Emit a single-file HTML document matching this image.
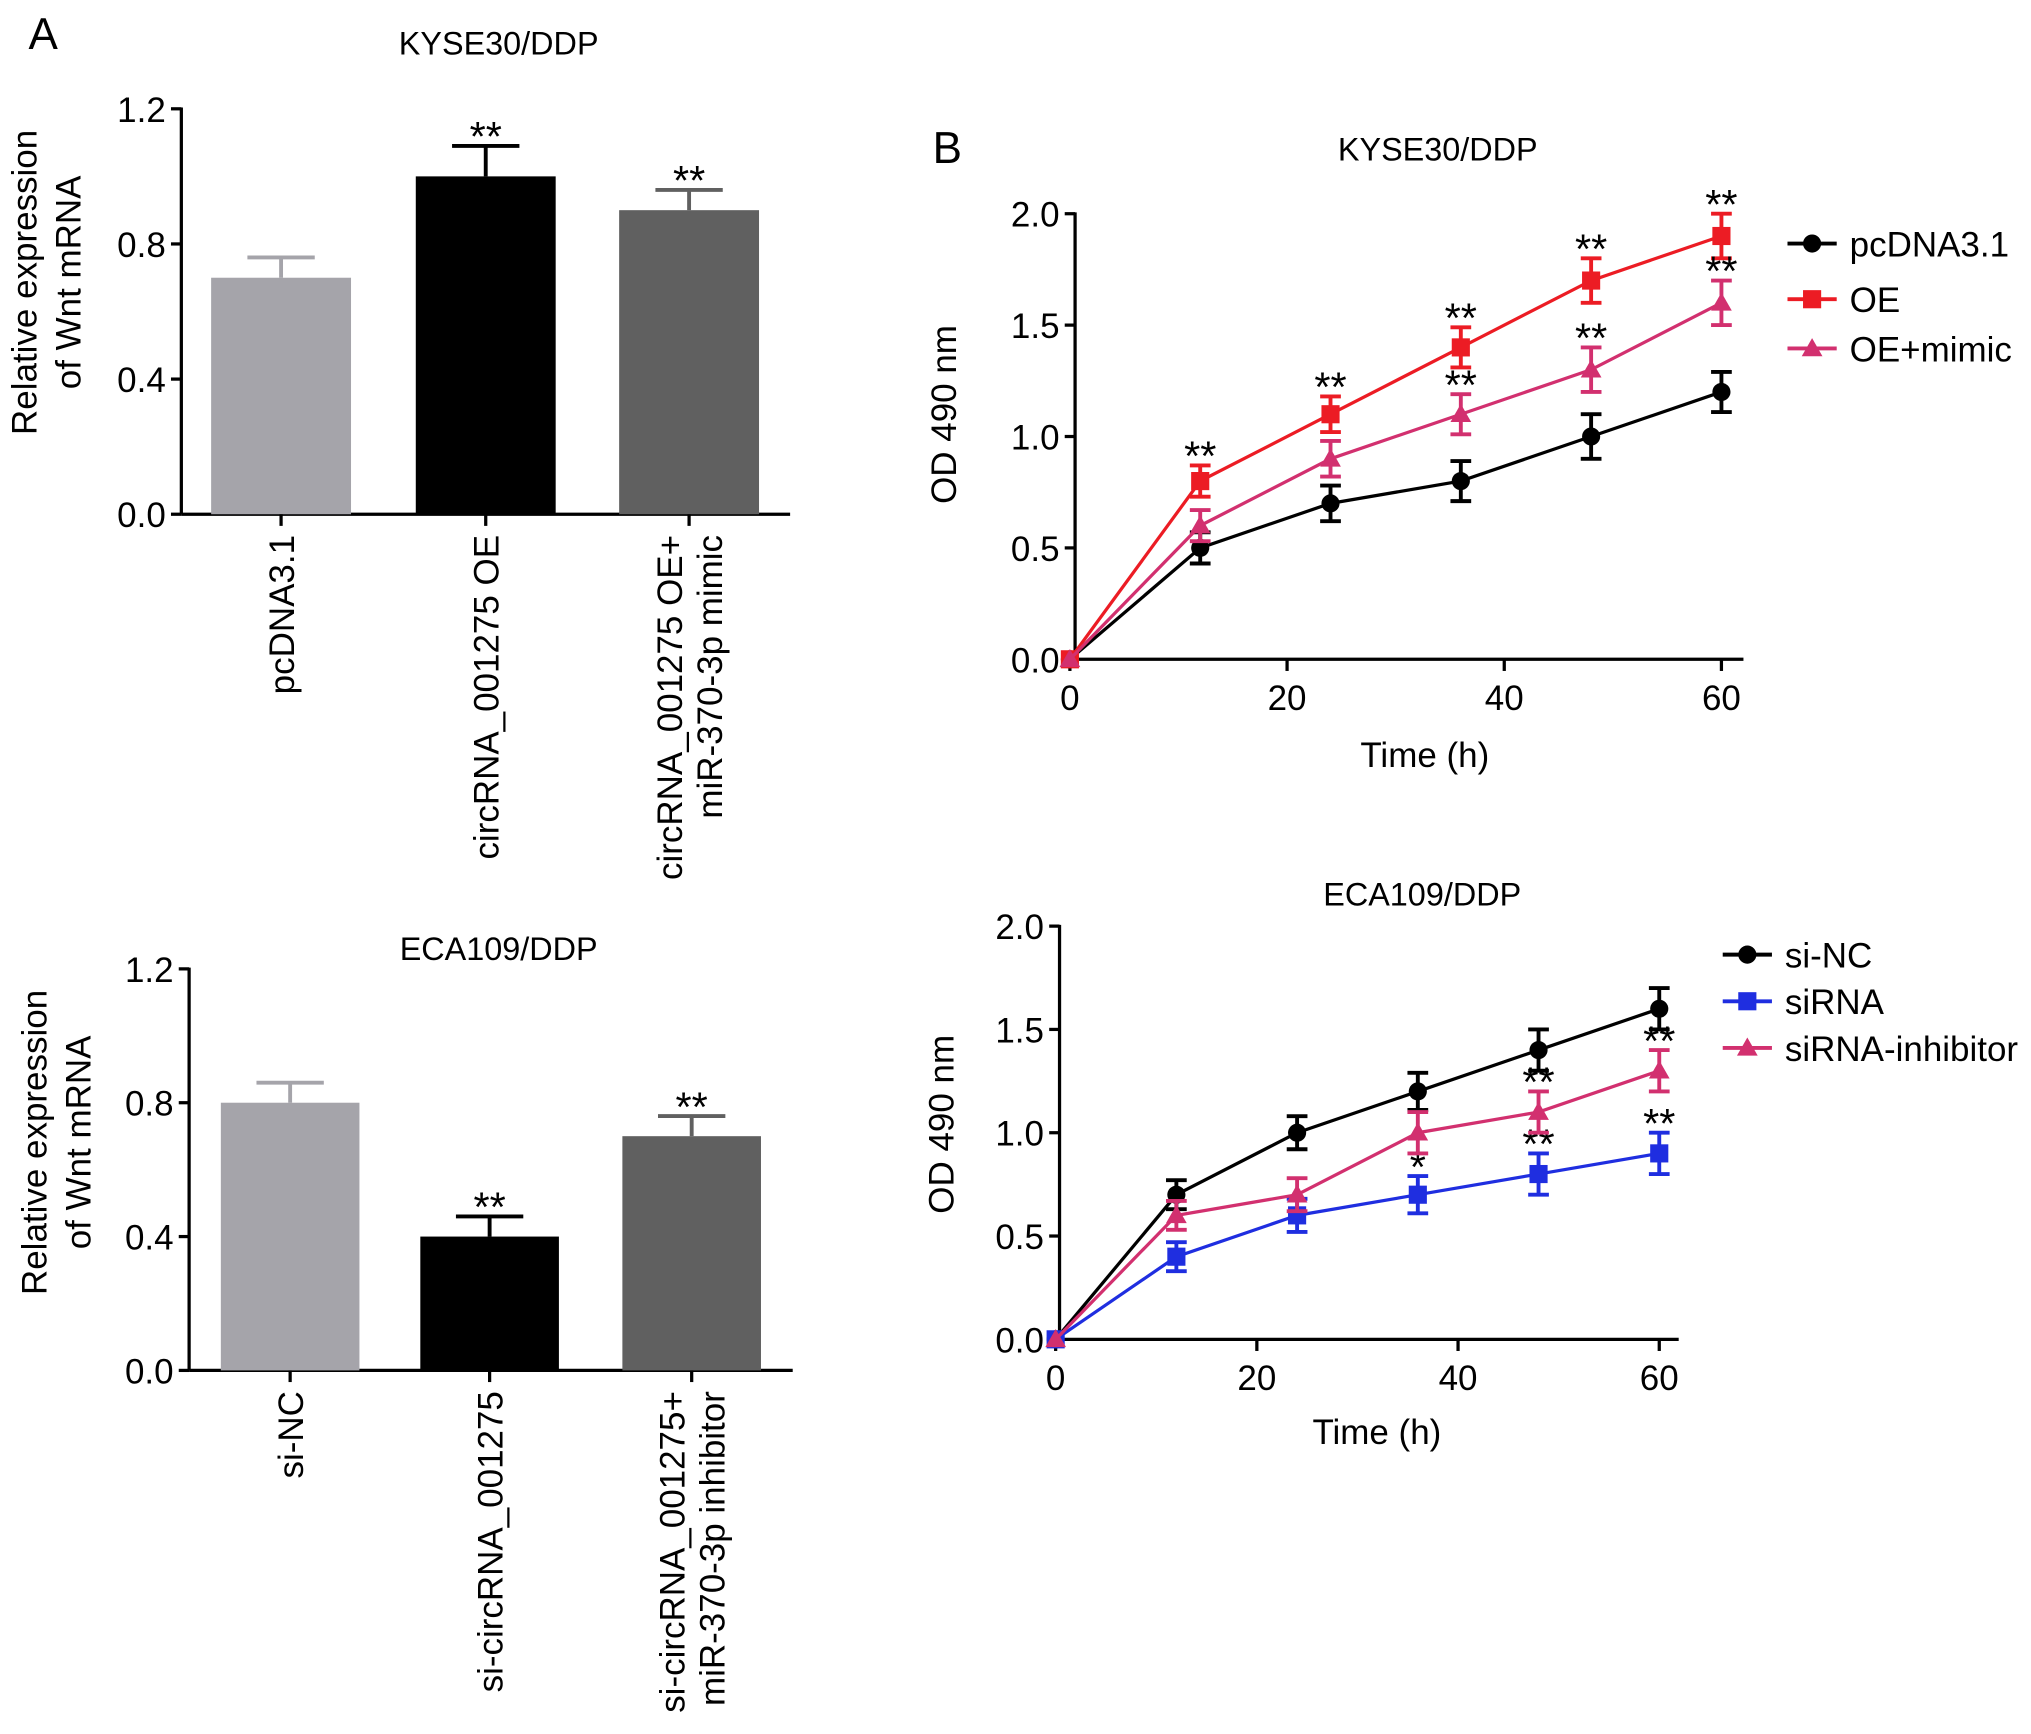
<!DOCTYPE html>
<html><head><meta charset="utf-8"><style>
html,body{margin:0;padding:0;background:#fff;}
svg{display:block;font-family:"Liberation Sans",Arial,sans-serif;}
</style></head><body>
<svg id="fig" width="2031" height="1734" viewBox="0 0 1568 1338.7" xmlns="http://www.w3.org/2000/svg">
<rect width="1568" height="1339" fill="#fff"/>
<text x="22" y="38" font-size="34">A</text>
<text x="720" y="126" font-size="34">B</text>
</svg>
<script>
// Bar chart data
const barTopCats = [["pcDNA3.1"],["circRNA_001275 OE"],["circRNA_001275 OE+","miR-370-3p mimic"]];
const barTopVals = [0.7, 1.0, 0.9];
const barTopErr = [0.06, 0.09, 0.06];
const barTopSig = ["", "**", "**"];
const barBotCats = [["si-NC"],["si-circRNA_001275"],["si-circRNA_001275+","miR-370-3p inhibitor"]];
const barBotVals = [0.8, 0.4, 0.7];
const barBotErr = [0.06, 0.06, 0.06];
const barBotSig = ["", "**", "**"];
const barTicks = [0.0, 0.4, 0.8, 1.2];
const barTickLabels = ["0.0", "0.4", "0.8", "1.2"];
// Line chart data
const timeX = [0, 12, 24, 36, 48, 60];
const xTicks = [0, 20, 40, 60];
const yTicksB = [0.0, 0.5, 1.0, 1.5, 2.0];
const yTickLabelsB = ["0.0", "0.5", "1.0", "1.5", "2.0"];
const topNames = ["pcDNA3.1", "OE", "OE+mimic"];
const topPc = [0, 0.5, 0.7, 0.8, 1.0, 1.2];
const topPcErr = [0, 0.07, 0.08, 0.09, 0.1, 0.09];
const topOE = [0, 0.8, 1.1, 1.4, 1.7, 1.9];
const topOEErr = [0, 0.07, 0.08, 0.09, 0.1, 0.1];
const topMim = [0, 0.6, 0.9, 1.1, 1.3, 1.6];
const topMimErr = [0, 0.07, 0.08, 0.09, 0.1, 0.1];
const topOESig = ["", "**", "**", "**", "**", "**"];
const topMimSig = ["", "", "", "**", "**", "**"];
const botNames = ["si-NC", "siRNA", "siRNA-inhibitor"];
const botNC = [0, 0.7, 1.0, 1.2, 1.4, 1.6];
const botNCErr = [0, 0.07, 0.08, 0.09, 0.1, 0.1];
const botSi = [0, 0.4, 0.6, 0.7, 0.8, 0.9];
const botSiErr = [0, 0.07, 0.08, 0.09, 0.1, 0.1];
const botInh = [0, 0.6, 0.7, 1.0, 1.1, 1.3];
const botInhErr = [0, 0.07, 0.08, 0.1, 0.1, 0.1];
const botSiSig = ["", "", "", "*", "**", "**"];
const botInhSig = ["", "", "", "", "**", "**"];

const svg = document.getElementById('fig');
const NS = "http://www.w3.org/2000/svg";
function mk(tag, attrs, parent) {
  const e = document.createElementNS(NS, tag);
  for (const k in attrs) e.setAttribute(k, attrs[k]);
  (parent || svg).appendChild(e);
  return e;
}
function txt(s, attrs, parent) { const e = mk('text', attrs, parent); e.textContent = s; return e; }

function barChart(o) {
  const g = mk('g', {});
  
  
  const y = v => o.y0 - (v / 1.2) * (o.y0 - o.y1);
  txt(o.title, {x: o.titleX, y: o.titleY, 'font-size': 25, 'text-anchor': 'middle'}, g);
  const ax = mk('line', {x1: o.ax, y1: o.y1 - 1, x2: o.ax, y2: o.y0, stroke: '#000', 'stroke-width': 2.5}, g);
  
  
  const xa = mk('line', {x1: o.ax, y1: o.y0, x2: o.xEnd, y2: o.y0, stroke: '#000', 'stroke-width': 2.5}, g);
  
  
  barTicks.forEach((t, i) => {
    mk('line', {x1: o.ax - 8, y1: y(t), x2: o.ax, y2: y(t), stroke: '#000', 'stroke-width': 2.5}, g);
    const l = txt(barTickLabels[i], {x: o.ax - 12, y: y(t) + 10, 'font-size': 27, 'text-anchor': 'end'}, g);
    
    
  });
  const yt = txt('', {transform: `translate(${o.ytX},${o.ytY}) rotate(-90)`, 'font-size': 27, 'text-anchor': 'middle'}, g);
  
  
  const s1 = mk('tspan', {x: 0, y: 0}, yt); s1.textContent = 'Relative expression';
  const s2 = mk('tspan', {x: 0, y: 34}, yt); s2.textContent = 'of Wnt mRNA';
  o.vals.forEach((v, i) => {
    const cx = o.cx[i];
    const b = mk('rect', {x: cx - o.bw / 2, y: y(v), width: o.bw, height: o.y0 - y(v), fill: o.colors[i]}, g);
    
    
    const top = y(v + o.err[i]);
    mk('line', {x1: cx, y1: y(v), x2: cx, y2: top, stroke: o.colors[i], 'stroke-width': 3}, g);
    mk('line', {x1: cx - 26, y1: top, x2: cx + 26, y2: top, stroke: o.colors[i], 'stroke-width': 3}, g);
    if (o.sig[i]) {
      const st = txt(o.sig[i], {x: cx, y: top + 4, 'font-size': 32, 'text-anchor': 'middle'}, g);
      
      
    }
    mk('line', {x1: cx, y1: o.y0, x2: cx, y2: o.y0 + 9, stroke: '#000', 'stroke-width': 2.5}, g);
    const lines = o.cats[i];
    const n = lines.length;
    const lt = txt('', {transform: `translate(${cx},${o.y0 + 16}) rotate(-90)`, 'font-size': 27, 'text-anchor': 'end'}, g);
    
    
    lines.forEach((ln, k) => {
      const sp = mk('tspan', {x: 0, y: 10 + (k - (n - 1) / 2) * 31}, lt); sp.textContent = ln;
    });
  });
}

barChart({name: 'bar-chart-kyse30', title: 'KYSE30/DDP', titleX: 385, titleY: 42, ax: 140, xEnd: 610, y0: 397, y1: 84,
  cx: [217, 375, 532], bw: 108, vals: barTopVals, err: barTopErr, sig: barTopSig, cats: barTopCats,
  colors: ['#a5a4aa', '#000000', '#606060'], ytX: 28, ytY: 218});
barChart({name: 'bar-chart-eca109', title: 'ECA109/DDP', titleX: 385, titleY: 741, ax: 146, xEnd: 612, y0: 1058, y1: 748,
  cx: [224, 378, 534], bw: 107, vals: barBotVals, err: barBotErr, sig: barBotSig, cats: barBotCats,
  colors: ['#a5a4aa', '#000000', '#606060'], ytX: 36, ytY: 882});

function marker(g, shape, x, y, c) {
  if (shape === 'circle') return mk('circle', {cx: x, cy: y, r: 7, fill: c}, g);
  if (shape === 'square') return mk('rect', {x: x - 7, y: y - 7, width: 14, height: 14, fill: c}, g);
  return mk('polygon', {points: `${x},${y - 8} ${x - 8},${y + 6} ${x + 8},${y + 6}`, fill: c}, g);
}

function lineChart(o) {
  const g = mk('g', {});
  
  
  const X = t => o.x0 + (t / 60) * (o.x60 - o.x0);
  const Y = v => o.y0 - (v / 2) * (o.y0 - o.y2);
  txt(o.title, {x: o.titleX, y: o.titleY, 'font-size': 25, 'text-anchor': 'middle'}, g);
  const ya = mk('line', {x1: o.ax, y1: o.y2 - 1, x2: o.ax, y2: o.y0, stroke: '#000', 'stroke-width': 2.5}, g);
  
  
  const xa = mk('line', {x1: o.ax, y1: o.y0, x2: o.xEnd, y2: o.y0, stroke: '#000', 'stroke-width': 2.5}, g);
  
  
  yTicksB.forEach((t, i) => {
    mk('line', {x1: o.ax - 8, y1: Y(t), x2: o.ax, y2: Y(t), stroke: '#000', 'stroke-width': 2.5}, g);
    const l = txt(yTickLabelsB[i], {x: o.ax - 12, y: Y(t) + 10, 'font-size': 27, 'text-anchor': 'end'}, g);
    
    
  });
  xTicks.forEach(t => {
    mk('line', {x1: X(t), y1: o.y0, x2: X(t), y2: o.y0 + 9, stroke: '#000', 'stroke-width': 2.5}, g);
    const l = txt(String(t), {x: X(t), y: o.y0 + 39, 'font-size': 27, 'text-anchor': 'middle'}, g);
    
    
  });
  const xt = txt('Time (h)', {x: o.xtX, y: o.xtY, 'font-size': 27, 'text-anchor': 'middle'}, g);
  
  
  const yt = txt('OD 490 nm', {transform: `translate(${o.ytX},${o.ytY}) rotate(-90)`, 'font-size': 27, 'text-anchor': 'middle'}, g);
  
  
  o.series.forEach((s, si) => {
    const sg = mk('g', {}, g);
    
    
    const pts = s.vals.map((v, i) => X(timeX[i]) + ',' + Y(v)).join(' ');
    mk('polyline', {points: pts, fill: 'none', stroke: s.color, 'stroke-width': 2.5}, sg);
    s.vals.forEach((v, i) => {
      const x = X(timeX[i]);
      if (s.err[i] > 0) {
        const a = Y(v + s.err[i]), b = Y(v - s.err[i]);
        mk('line', {x1: x, y1: a, x2: x, y2: b, stroke: s.color, 'stroke-width': 3}, sg);
        mk('line', {x1: x - 8, y1: a, x2: x + 8, y2: a, stroke: s.color, 'stroke-width': 3}, sg);
        mk('line', {x1: x - 8, y1: b, x2: x + 8, y2: b, stroke: s.color, 'stroke-width': 3}, sg);
      }
      const m = marker(sg, s.shape, x, Y(v), s.color);
      
      
      if (s.sig && s.sig[i]) {
        const st = txt(s.sig[i], {x: x, y: Y(v + s.err[i]) + 4, 'font-size': 32, 'text-anchor': 'middle'}, sg);
        
        
      }
    });
    const ly = o.legY[si];
    const lg = mk('g', {}, g);
    
    
    mk('line', {x1: o.legX, y1: ly, x2: o.legX + 38, y2: ly, stroke: s.color, 'stroke-width': 3}, lg);
    marker(lg, s.shape, o.legX + 19, ly, s.color);
    txt(s.name, {x: o.legX + 48, y: ly + 10, 'font-size': 27}, lg);
  });
}

lineChart({name: 'line-chart-kyse30', title: 'KYSE30/DDP', titleX: 1110, titleY: 124, ax: 830, xEnd: 1346, x0: 826, x60: 1329, y0: 509, y2: 165,
  xtX: 1100, xtY: 592, ytX: 738, ytY: 320, legX: 1380, legY: [188, 231, 269],
  series: [
    {name: topNames[0], vals: topPc, err: topPcErr, color: '#000000', shape: 'circle'},
    {name: topNames[1], vals: topOE, err: topOEErr, color: '#ec1c24', shape: 'square', sig: topOESig},
    {name: topNames[2], vals: topMim, err: topMimErr, color: '#d2306f', shape: 'triangle', sig: topMimSig}
  ]});
lineChart({name: 'line-chart-eca109', title: 'ECA109/DDP', titleX: 1098, titleY: 699, ax: 818, xEnd: 1296, x0: 815, x60: 1281, y0: 1034, y2: 715,
  xtX: 1063, xtY: 1115, ytX: 736, ytY: 868, legX: 1330, legY: [737, 773, 809],
  series: [
    {name: botNames[0], vals: botNC, err: botNCErr, color: '#000000', shape: 'circle'},
    {name: botNames[1], vals: botSi, err: botSiErr, color: '#1f2ee0', shape: 'square', sig: botSiSig},
    {name: botNames[2], vals: botInh, err: botInhErr, color: '#d2306f', shape: 'triangle', sig: botInhSig}
  ]});
</script>
</body></html>
